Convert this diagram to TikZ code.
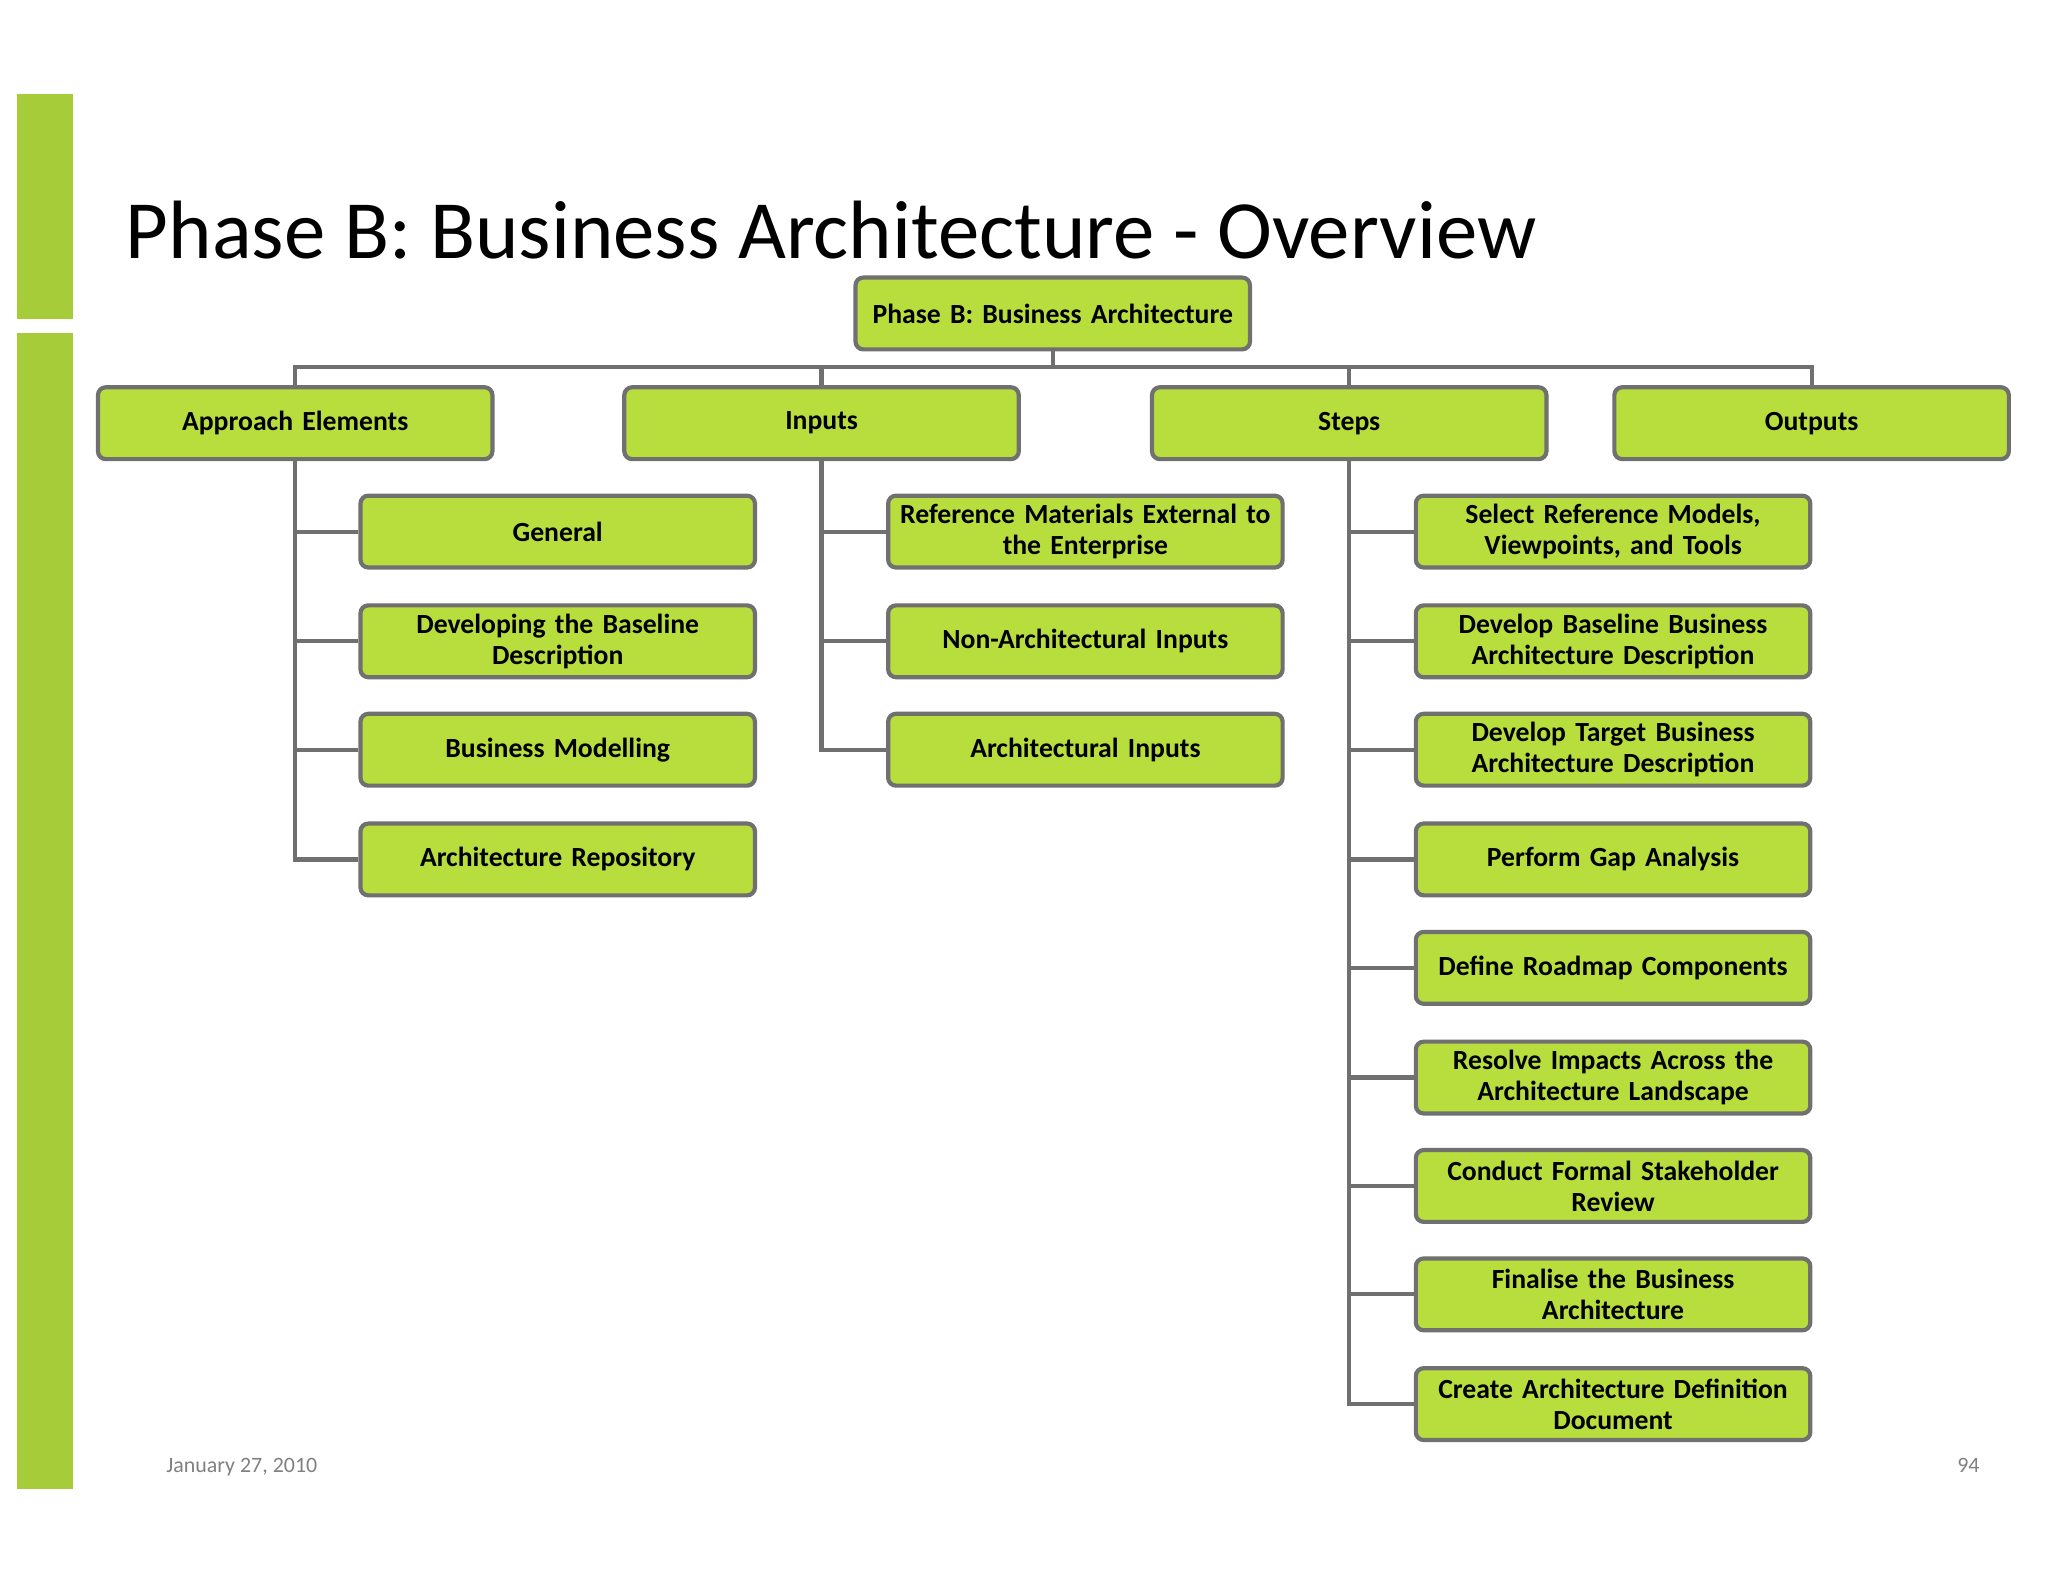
\documentclass[tikz,border=0pt]{standalone}
\usepackage{fontspec}
\setmainfont{Carlito}
\definecolor{barg}{RGB}{166,204,58}
\definecolor{boxg}{RGB}{184,222,62}
\definecolor{edge}{RGB}{112,112,112}
\begin{document}
\begin{tikzpicture}[x=0.5pt,y=-0.5pt,
  bx/.style={draw=edge,line width=1.6pt,fill=boxg,rounded corners=3pt,minimum width=151pt,minimum height=27.5pt,inner sep=1pt,align=center,font=\fontsize{10.6}{11.8}\selectfont\bfseries,text width=149pt},
  ln/.style={draw=edge,line width=1.6pt}]
\useasboundingbox (0,0) rectangle (1568,1211);
\fill[white] (0,0) rectangle (1568,1211);
\fill[barg] (13,72) rectangle (56,244);
\fill[barg] (13,255) rectangle (56,1140);
\node[anchor=base west,font=\fontsize{31.7}{34}\selectfont,inner sep=0] (title) at (96,198) {Phase B: Business Architecture - Overview};
\node[anchor=base west,font=\fontsize{8.4}{9}\selectfont,text=gray,inner sep=0] (date) at (127,1127) {January 27, 2010};
\node[anchor=base east,font=\fontsize{8.4}{9}\selectfont,text=gray,inner sep=0] (pg) at (1516,1127) {94};
\coordinate (bus) at (806,281);
\coordinate (bi) at (629,281);
\coordinate (bs) at (1033,281);
\draw[ln] (806,250) -- (bus);
\draw[ln] (226,300) |- (bus) -| (1387,300);
\draw[ln] (bi) -- (629,300);
\draw[ln] (bs) -- (1033,300);
\node[bx] (root) at (806,240) {Phase B: Business Architecture};
\node[bx] (ae) at (226,324) {Approach Elements};
\node[bx] (in) at (629,324) {Inputs};
\node[bx] (st) at (1033,324) {Steps};
\node[bx] (ou) at (1387,324) {Outputs};
\node[bx] (a1) at (427,407) {General};
\node[bx] (a2) at (427,491) {Developing the Baseline\\Description};
\node[bx] (a3) at (427,574) {Business Modelling};
\node[bx] (a4) at (427,658) {Architecture Repository};
\node[bx] (i1) at (831,407) {Reference Materials External to\\the Enterprise};
\node[bx] (i2) at (831,491) {Non-Architectural Inputs};
\node[bx] (i3) at (831,574) {Architectural Inputs};
\node[bx] (s1) at (1235,407) {Select Reference Models,\\Viewpoints, and Tools};
\node[bx] (s2) at (1235,491) {Develop Baseline Business\\Architecture Description};
\node[bx] (s3) at (1235,574) {Develop Target Business\\Architecture Description};
\node[bx] (s4) at (1235,658) {Perform Gap Analysis};
\node[bx] (s5) at (1235,741) {Define Roadmap Components};
\node[bx] (s6) at (1235,825) {Resolve Impacts Across the\\Architecture Landscape};
\node[bx] (s7) at (1235,908) {Conduct Formal Stakeholder\\Review};
\node[bx] (s8) at (1235,991) {Finalise the Business\\Architecture};
\node[bx] (s9) at (1235,1075) {Create Architecture Definition\\Document};
\foreach \c in {a1,a2,a3,a4} \draw[ln] (ae.south) |- (\c.west);
\foreach \c in {i1,i2,i3} \draw[ln] (in.south) |- (\c.west);
\foreach \c in {s1,s2,s3,s4,s5,s6,s7,s8,s9} \draw[ln] (st.south) |- (\c.west);
\end{tikzpicture}
\end{document}
